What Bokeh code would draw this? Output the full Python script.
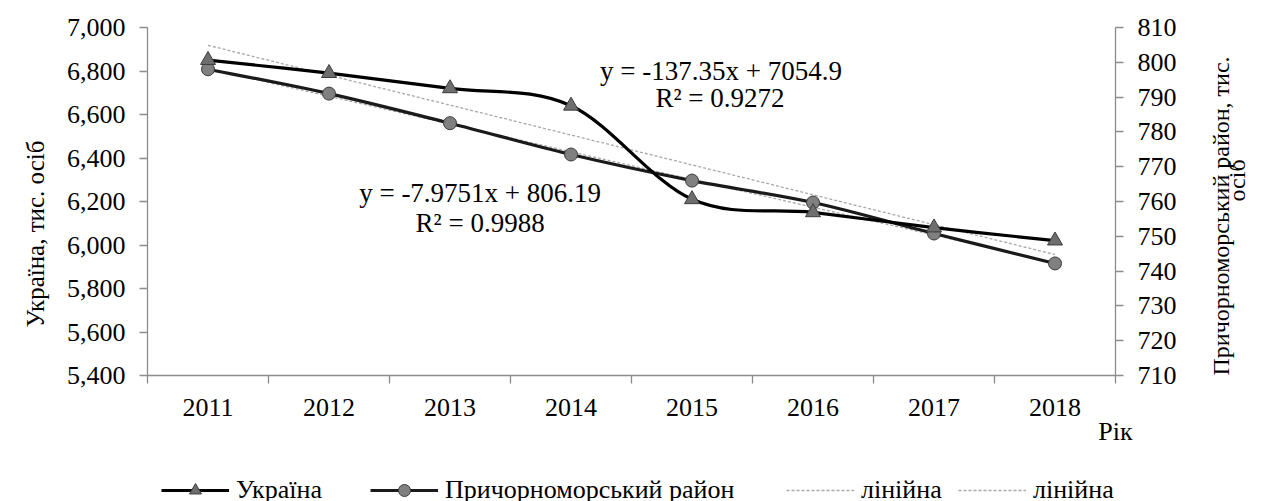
import math
from bokeh.plotting import figure
from bokeh.layouts import column
from bokeh.models import (Range1d, LinearAxis, FixedTicker, NumeralTickFormatter,
                          Label, Legend, LegendItem, Title)
from bokeh.embed import file_html
from bokeh.resources import INLINE

# ---------------- data ----------------
years = ["2011", "2012", "2013", "2014", "2015", "2016", "2017", "2018"]
ukraine = [6850, 6790, 6720, 6640, 6210, 6150, 6080, 6020]          # left axis
region = [798.0, 791.0, 782.5, 773.5, 766.0, 759.7, 750.8, 742.2]   # right axis
trend_ukraine = [6918, 5956]      # linear trend at 2011 and 2018
trend_region = [798.2, 742.4]     # linear trend at 2011 and 2018
left_ticks = [5400, 5600, 5800, 6000, 6200, 6400, 6600, 6800, 7000]
right_ticks = [710, 720, 730, 740, 750, 760, 770, 780, 790, 800, 810]
eq_ukraine = ["y = -137.35x + 7054.9", "R\u00b2 = 0.9272"]
eq_region = ["y = -7.9751x + 806.19", "R\u00b2 = 0.9988"]
left_title = "Україна, тис. осіб"
right_title = ["Причорноморський район, тис.", "осіб"]
x_title = "Рік"
legend_labels = ["Україна", "Причорноморський район", "лінійна", "лінійна"]

FONT = "Liberation Serif"
FS = "26px"
AXIS_GRAY = "#8c8c8c"
TREND = dict(line_color="#a8a8a8", line_width=1.3, line_dash="3 2")
UA_LINE = dict(line_color="black", line_width=3.2)
RG_LINE = dict(line_color="#1a1a1a", line_width=3.2)
UA_MARK = dict(marker="triangle", fill_color="#6e6e6e", line_color="#3c3c3c", line_width=1)
RG_MARK = dict(marker="circle", fill_color="#808080", line_color="#3c3c3c", line_width=1)

xs = list(range(len(years)))

H1 = 450
p = figure(width=1265, height=H1, output_backend="svg", toolbar_location=None,
           x_range=Range1d(-0.5, len(years) - 0.5),
           y_range=Range1d(left_ticks[0], left_ticks[-1]),
           min_border_left=147, min_border_right=149, min_border_top=27,
           min_border_bottom=H1 - 375, x_axis_type=None, y_axis_type=None)
p.outline_line_color = None
p.xgrid.visible = False
p.ygrid.visible = False
p.background_fill_color = "white"
p.border_fill_color = "white"
p.extra_y_ranges = {"right": Range1d(right_ticks[0], right_ticks[-1])}


def style_axis(ax):
    ax.axis_line_color = AXIS_GRAY
    ax.axis_line_width = 1.3
    ax.major_tick_line_color = AXIS_GRAY
    ax.major_tick_line_width = 1.3
    ax.minor_tick_line_color = AXIS_GRAY
    ax.minor_tick_line_width = 1.3
    ax.major_label_text_font = FONT
    ax.major_label_text_font_size = FS
    ax.major_label_text_color = "black"
    ax.axis_label_text_font = FONT
    ax.axis_label_text_font_size = "24px"
    ax.axis_label_text_font_style = "normal"
    ax.axis_label_text_color = "black"


# x axis: labels at category centres, ticks at category boundaries
xax = LinearAxis(ticker=FixedTicker(ticks=xs,
                                    minor_ticks=[i - 0.5 for i in range(len(years) + 1)]))
style_axis(xax)
xax.axis_label_text_font_size = FS
xax.major_label_overrides = {i: y for i, y in enumerate(years)}
xax.major_tick_out = 0
xax.major_tick_in = 0
xax.minor_tick_out = 8
xax.minor_tick_in = 0
xax.major_label_standoff = 15
use_title = False
try:
    xax.axis_label = x_title
    xax.axis_label_align = "end"
    xax.axis_label_standoff = -2
except Exception:
    xax.axis_label = None
    use_title = True
p.add_layout(xax, "below")
if use_title:
    p.add_layout(Title(text=x_title, align="right", text_font=FONT, text_font_size=FS,
                       text_font_style="normal", standoff=0), "below")

# left axis (values) + its title as a side title reading bottom-to-top
yl = LinearAxis(ticker=FixedTicker(ticks=left_ticks),
                formatter=NumeralTickFormatter(format="0,0"))
style_axis(yl)
yl.major_tick_out = 8
yl.major_tick_in = 0
yl.minor_tick_out = 0
yl.major_label_standoff = 14
p.add_layout(yl, "left")
p.add_layout(Title(text=left_title, align="left", offset=48, standoff=30,
                   text_font=FONT, text_font_size="25px", text_font_style="normal",
                   text_color="black"), "left")

# right axis (values) + first title line
yr = LinearAxis(y_range_name="right", ticker=FixedTicker(ticks=right_ticks))
style_axis(yr)
yr.major_tick_out = 8
yr.major_tick_in = 0
yr.minor_tick_out = 0
yr.major_label_standoff = 14
yr.axis_label = right_title[0]
yr.axis_label_standoff = 41
try:
    yr.axis_label_orientation = math.pi / 2
    yr.axis_label_align = "start"
except Exception:
    pass
p.add_layout(yr, "right")

# second title line on a bare companion axis
yr2 = LinearAxis(y_range_name="right", ticker=FixedTicker(ticks=[]))
style_axis(yr2)
yr2.axis_line_color = None
yr2.major_tick_out = 0
yr2.major_tick_in = 0
yr2.minor_tick_out = 0
yr2.minor_tick_in = 0
yr2.major_label_standoff = 0
yr2.axis_label = right_title[1]
yr2.axis_label_standoff = -13
try:
    yr2.axis_label_orientation = math.pi / 2
except Exception:
    pass
p.add_layout(yr2, "right")

# ---------------- trend lines ----------------
p.line([xs[0], xs[-1]], trend_ukraine, **TREND)
p.line([xs[0], xs[-1]], trend_region, y_range_name="right", **TREND)


# ---------------- smoothed series (Bezier through the points) ----------------
def smooth(xv, yv):
    n = len(xv)
    d = dict(x0=[], y0=[], x1=[], y1=[], cx0=[], cy0=[], cx1=[], cy1=[])
    for i in range(n - 1):
        xp, yp = (xv[i - 1], yv[i - 1]) if i > 0 else (xv[i], yv[i])
        xn, yn = (xv[i + 2], yv[i + 2]) if i + 2 < n else (xv[i + 1], yv[i + 1])
        d["x0"].append(xv[i]); d["y0"].append(yv[i])
        d["x1"].append(xv[i + 1]); d["y1"].append(yv[i + 1])
        d["cx0"].append(xv[i] + (xv[i + 1] - xp) / 6.0)
        d["cy0"].append(yv[i] + (yv[i + 1] - yp) / 6.0)
        d["cx1"].append(xv[i + 1] - (xn - xv[i]) / 6.0)
        d["cy1"].append(yv[i + 1] - (yn - yv[i]) / 6.0)
    return d


p.bezier(**smooth(xs, region), y_range_name="right", **RG_LINE)
p.bezier(**smooth(xs, ukraine), **UA_LINE)
p.scatter(xs, region, size=13, y_range_name="right", **RG_MARK)
p.scatter(xs, ukraine, size=15, **UA_MARK)


# ---------------- equation texts (inside the plot area) ----------------
def add_label(x, y, text):
    p.add_layout(Label(x=x, y=y, text=text, text_font=FONT,
                       text_font_size="27px", text_color="black", text_align="center",
                       text_baseline="middle"))

add_label(4.239, 6802, eq_ukraine[0])
add_label(4.231, 6674, eq_ukraine[1])
add_label(2.249, 6237, eq_region[0])
add_label(2.249, 6099, eq_region[1])

# ---------------- legend strip (separate small figure below) ----------------
H2 = 501 - H1
lf = figure(width=1265, height=H2, output_backend="svg", toolbar_location=None,
            x_range=Range1d(0, 1), y_range=Range1d(0, 1),
            x_axis_type=None, y_axis_type=None,
            min_border_left=0, min_border_right=0, min_border_top=0, min_border_bottom=0)
lf.outline_line_color = None
lf.grid.visible = False
lf.background_fill_color = "white"
lf.border_fill_color = "white"

# legend renderers live outside the visible range of the strip
l_ua = lf.line([-5, -4], [-5, -5], **UA_LINE)
m_ua = lf.scatter([-5], [-5], size=13, **UA_MARK)
l_rg = lf.line([-5, -4], [-5, -5], **RG_LINE)
m_rg = lf.scatter([-5], [-5], size=13, **RG_MARK)
l_t1 = lf.line([-5, -4], [-5, -5], **TREND)
l_t2 = lf.line([-5, -4], [-5, -5], **TREND)

# the strip's frame is aligned with the chart frame
FRAME_LEFT = 149
item_renderers = [[l_ua, m_ua], [l_rg, m_rg], [l_t1], [l_t2]]
item_x = [163, 372, 788, 960]
for lab, rends, x0 in zip(legend_labels, item_renderers, item_x):
    lg = Legend(items=[LegendItem(label=lab, renderers=rends)],
                orientation="horizontal", location=(x0 - FRAME_LEFT, -4))
    lg.label_text_font = FONT
    lg.label_text_font_size = FS
    lg.label_text_color = "black"
    lg.glyph_width = 68
    lg.glyph_height = 30
    lg.label_standoff = 7
    lg.padding = 0
    lg.margin = 0
    lg.border_line_color = None
    lg.background_fill_alpha = 0
    lf.add_layout(lg, "center")

layout = column(p, lf, spacing=0)
open("out.html", "w").write(file_html(layout, INLINE))
